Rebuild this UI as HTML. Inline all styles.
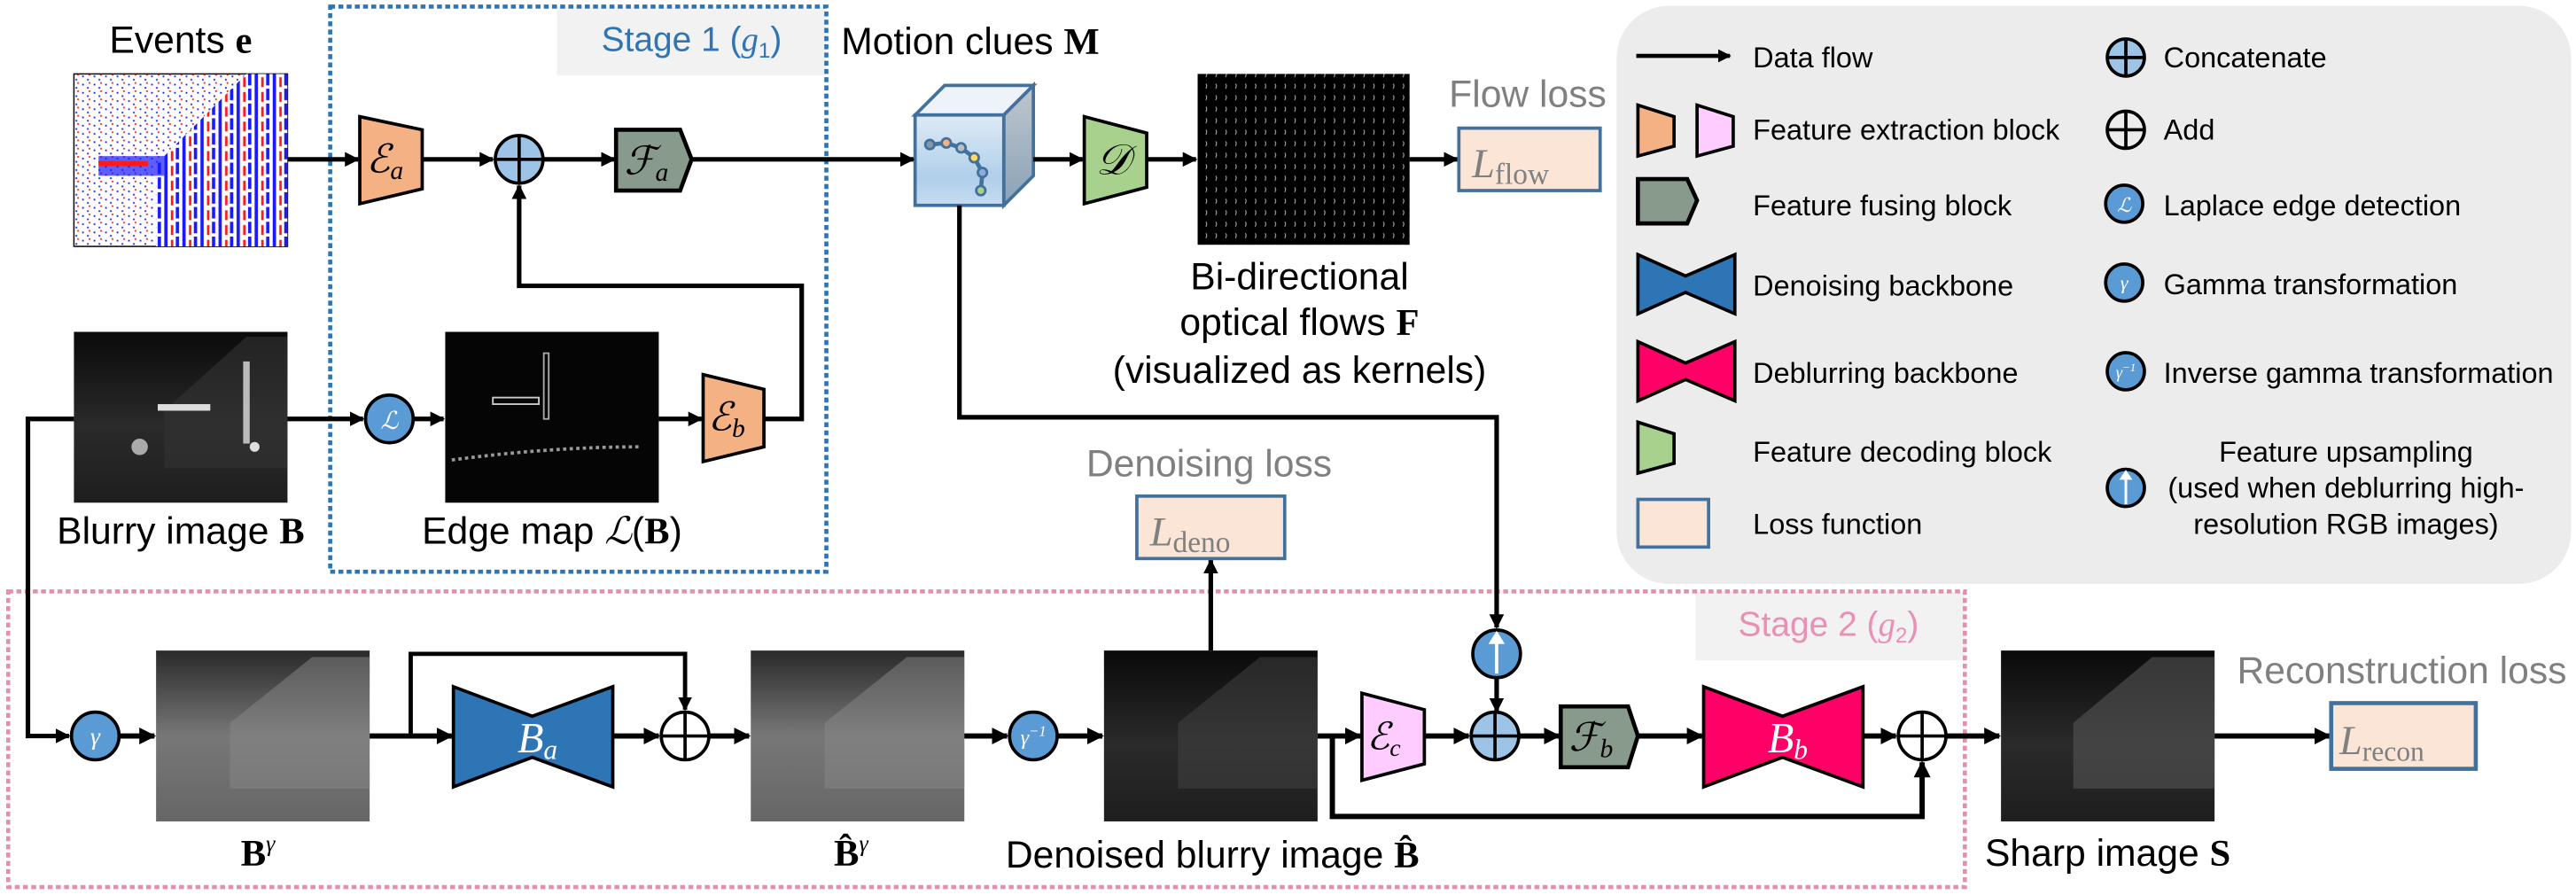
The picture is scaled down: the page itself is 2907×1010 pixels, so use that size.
<!DOCTYPE html>
<html><head><meta charset="utf-8"><style>
html,body{margin:0;padding:0;background:#fff;}
svg{display:block;}
.t{font-family:"Liberation Sans",sans-serif;}
.m{font-family:"Liberation Serif",serif;font-style:italic;}
.b{font-family:"Liberation Serif",serif;font-weight:bold;}
</style></head><body>
<svg width="2907" height="1010" viewBox="0 0 1568 544.8" preserveAspectRatio="none" xmlns="http://www.w3.org/2000/svg">
<defs>
<marker id="ah" viewBox="0 0 10 10" refX="9" refY="5" markerWidth="3.2" markerHeight="3.2" orient="auto" markerUnits="strokeWidth"><path d="M0,0 L10,5 L0,10 z" fill="#000"/></marker>
<linearGradient id="night" x1="0" y1="0" x2="0" y2="1"><stop offset="0" stop-color="#0a0a0a"/><stop offset="0.55" stop-color="#2a2a2a"/><stop offset="1" stop-color="#1e1e1e"/></linearGradient>
<linearGradient id="gam" x1="0" y1="0" x2="0" y2="1"><stop offset="0" stop-color="#2a2a2a"/><stop offset="0.5" stop-color="#777"/><stop offset="1" stop-color="#666"/></linearGradient>
<linearGradient id="cf" x1="0" y1="0" x2="0" y2="1"><stop offset="0" stop-color="#deeaf6"/><stop offset="0.7" stop-color="#b0cfea"/><stop offset="1" stop-color="#c6dcf0"/></linearGradient>
<linearGradient id="cs" x1="0" y1="0" x2="0" y2="1"><stop offset="0" stop-color="#bfc6cd"/><stop offset="1" stop-color="#8aa2b8"/></linearGradient>
<pattern id="kern" width="6" height="7" patternUnits="userSpaceOnUse"><rect width="6" height="7" fill="#000"/><path d="M2,2 q1,1 0,3" stroke="#aaa" stroke-width="0.6" fill="none"/></pattern>
<pattern id="ev" width="11" height="9" patternUnits="userSpaceOnUse"><rect width="11" height="9" fill="#fff"/><rect x="1" y="0" width="2" height="9" fill="#1a1aff"/><rect x="5" y="2" width="1.5" height="6" fill="#ff1a1a"/><rect x="8" y="0" width="2" height="7" fill="#1a1aff"/></pattern>
<pattern id="ev2" width="7" height="5" patternUnits="userSpaceOnUse"><rect width="7" height="5" fill="#fff"/><rect x="1" y="1" width="1" height="1" fill="#1a1aff"/><rect x="4" y="3" width="1" height="1" fill="#1a1aff"/><rect x="5" y="0" width="1" height="1" fill="#ff1a1a"/></pattern>
<clipPath id="bld"><polygon points="95,100 150,45 175,45 175,150 95,150"/></clipPath>
</defs>

<!-- Legend -->
<rect x="984" y="3.5" width="581" height="352" rx="32" fill="#ececec"/>

<!-- Stage boxes -->
<rect x="339" y="4" width="164" height="42" fill="#f2f2f2"/>
<rect x="201" y="4" width="302" height="344" fill="none" stroke="#2e75b6" stroke-width="2.5" stroke-dasharray="3,2"/>
<text x="421" y="31" class="t" font-size="21" fill="#2e75b6" text-anchor="middle">Stage 1 (<tspan class="m">g</tspan><tspan font-size="13" dy="4">1</tspan><tspan dy="-4">)</tspan></text>

<rect x="1032" y="360" width="164" height="42" fill="#f2f2f2"/>
<rect x="5" y="360" width="1191" height="180" fill="none" stroke="#e48fb2" stroke-width="2.5" stroke-dasharray="3,2"/>
<text x="1113" y="387" class="t" font-size="21" fill="#ea8fb5" text-anchor="middle">Stage 2 (<tspan class="m">g</tspan><tspan font-size="13" dy="4">2</tspan><tspan dy="-4">)</tspan></text>

<!-- Top labels -->
<text x="110" y="32" class="t" font-size="23" text-anchor="middle">Events <tspan class="b">e</tspan></text>
<text x="512" y="33" class="t" font-size="23">Motion clues <tspan class="b">M</tspan></text>
<text x="882" y="65" class="t" font-size="23" fill="#808080">Flow loss</text>
<text x="791" y="176" class="t" font-size="23" text-anchor="middle">Bi-directional</text>
<text x="791" y="204" class="t" font-size="23" text-anchor="middle">optical flows <tspan class="b">F</tspan></text>
<text x="791" y="233" class="t" font-size="23" text-anchor="middle">(visualized as kernels)</text>
<text x="736" y="290" class="t" font-size="23" fill="#808080" text-anchor="middle">Denoising loss</text>
<text x="110" y="331" class="t" font-size="23" text-anchor="middle">Blurry image <tspan class="b">B</tspan></text>
<text x="336" y="331" class="t" font-size="23" text-anchor="middle">Edge map <tspan class="m">ℒ</tspan>(<tspan class="b">B</tspan>)</text>
<text x="1462" y="416" class="t" font-size="23" fill="#808080" text-anchor="middle">Reconstruction loss</text>
<text x="157" y="527" class="b" font-size="23" text-anchor="middle">B<tspan font-size="14" dy="-9" class="m" font-weight="normal">γ</tspan></text>
<text x="518" y="527" class="b" font-size="23" text-anchor="middle">B̂<tspan font-size="14" dy="-9" class="m" font-weight="normal">γ</tspan></text>
<text x="738" y="528" class="t" font-size="23" text-anchor="middle">Denoised blurry image <tspan class="b">B̂</tspan></text>
<text x="1283" y="527" class="t" font-size="23" text-anchor="middle">Sharp image <tspan class="b">S</tspan></text>

<!-- Images -->
<rect x="45" y="45" width="130" height="105" fill="url(#ev2)" stroke="#000" stroke-width="0.8"/>
<rect x="95" y="45" width="80" height="105" fill="url(#ev)" clip-path="url(#bld)"/>
<rect x="60" y="95" width="40" height="12" fill="#1a1aff" opacity="0.7"/>
<rect x="60" y="98" width="30" height="3" fill="#ff1a1a"/>
<rect x="729" y="45" width="129" height="104" fill="url(#kern)"/>
<rect x="45" y="202" width="130" height="104" fill="url(#night)"/>
<polygon points="100,250 150,205 175,205 175,285 100,285" fill="#333" opacity="0.6"/>
<rect x="96" y="246" width="32" height="4" fill="#ddd"/><rect x="148" y="220" width="4" height="50" fill="#bbb"/>
<circle cx="85" cy="272" r="5" fill="#ccc" opacity="0.8"/><circle cx="155" cy="272" r="3" fill="#ddd"/>
<rect x="271" y="202" width="130" height="104" fill="#050505"/>
<rect x="300" y="242" width="28" height="4" fill="none" stroke="#ccc" stroke-width="1"/>
<rect x="331" y="215" width="3" height="40" fill="none" stroke="#aaa" stroke-width="1"/>
<path d="M275,280 q60,-8 115,-8" stroke="#999" stroke-width="2" fill="none" stroke-dasharray="2,2"/>
<rect x="95" y="396" width="130" height="104" fill="url(#gam)"/>
<polygon points="140,440 190,400 225,400 225,480 140,480" fill="#888" opacity="0.5"/>
<rect x="457" y="396" width="130" height="104" fill="url(#gam)"/>
<polygon points="502,440 552,400 587,400 587,480 502,480" fill="#888" opacity="0.5"/>
<rect x="672" y="396" width="130" height="104" fill="url(#night)"/>
<polygon points="717,440 767,400 802,400 802,480 717,480" fill="#444" opacity="0.5"/>
<rect x="1218" y="396" width="130" height="104" fill="url(#night)"/>
<polygon points="1262,440 1310,400 1348,400 1348,480 1262,480" fill="#555" opacity="0.6"/>

<!-- Cube -->
<polygon points="557,70 575,52 629,52 611,70" fill="#eef3fa" stroke="#41719c" stroke-width="2"/>
<polygon points="611,70 629,52 629,107 611,125" fill="url(#cs)" stroke="#41719c" stroke-width="2"/>
<rect x="557" y="70" width="54" height="55" fill="url(#cf)" stroke="#41719c" stroke-width="2"/>
<polyline points="566,88 576,87 585,90 593,96 598,105 597,116" fill="none" stroke="#41719c" stroke-width="2.5"/>
<g stroke="#41719c" stroke-width="1.5">
<circle cx="566" cy="88" r="2.8" fill="#8497b0"/><circle cx="576" cy="87" r="2.8" fill="#f4b183"/><circle cx="585" cy="90" r="2.8" fill="#bfbfbf"/><circle cx="593" cy="96" r="2.8" fill="#ffd966"/><circle cx="598" cy="105" r="2.8" fill="#8faadc"/><circle cx="597" cy="116" r="2.8" fill="#a9d18e"/></g>

<!-- Connectors -->
<g stroke="#000" stroke-width="2.8" fill="none">
<line x1="175" y1="97" x2="218" y2="97" marker-end="url(#ah)"/>
<line x1="257" y1="97" x2="300" y2="97" marker-end="url(#ah)"/>
<line x1="331" y1="97" x2="374" y2="97" marker-end="url(#ah)"/>
<line x1="421" y1="97" x2="556" y2="97" marker-end="url(#ah)"/>
<line x1="629" y1="97" x2="659" y2="97" marker-end="url(#ah)"/>
<line x1="698" y1="97" x2="728" y2="97" marker-end="url(#ah)"/>
<line x1="858" y1="97" x2="887" y2="97" marker-end="url(#ah)"/>
<line x1="175" y1="255" x2="221" y2="255" marker-end="url(#ah)"/>
<line x1="252" y1="255" x2="270" y2="255" marker-end="url(#ah)"/>
<line x1="401" y1="255" x2="427" y2="255" marker-end="url(#ah)"/>
<polyline points="465,255 488,255 488,174 316,174 316,113" marker-end="url(#ah)"/>
<polyline points="584,125 584,254 911,254 911,382" marker-end="url(#ah)"/>
<line x1="911" y1="413" x2="911" y2="433" marker-end="url(#ah)"/>
<line x1="737" y1="396" x2="737" y2="341" marker-end="url(#ah)"/>
<polyline points="45,255 17,255 17,448 42,448" marker-end="url(#ah)"/>
</g>
<g stroke="#000" stroke-width="3.2" fill="none">
<line x1="73" y1="448" x2="94" y2="448" marker-end="url(#ah)"/>
<line x1="225" y1="448" x2="275" y2="448" marker-end="url(#ah)"/>
<polyline points="250,448 250,398 417,398 417,432" marker-end="url(#ah)" stroke-width="2.6"/>
<line x1="373" y1="448" x2="401" y2="448" marker-end="url(#ah)"/>
<line x1="432" y1="448" x2="456" y2="448" marker-end="url(#ah)"/>
<line x1="587" y1="448" x2="613" y2="448" marker-end="url(#ah)"/>
<line x1="644" y1="448" x2="671" y2="448" marker-end="url(#ah)"/>
<line x1="802" y1="448" x2="828" y2="448" marker-end="url(#ah)"/>
<polyline points="811,448 811,497 1170,497 1170,464" marker-end="url(#ah)"/>
<line x1="867" y1="448" x2="894" y2="448" marker-end="url(#ah)"/>
<line x1="925" y1="448" x2="949" y2="448" marker-end="url(#ah)"/>
<line x1="997" y1="448" x2="1036" y2="448" marker-end="url(#ah)"/>
<line x1="1134" y1="448" x2="1154" y2="448" marker-end="url(#ah)"/>
<line x1="1185" y1="448" x2="1217" y2="448" marker-end="url(#ah)"/>
<line x1="1348" y1="448" x2="1418" y2="448" marker-end="url(#ah)"/>
</g>

<!-- Blocks -->
<polygon points="219,71 257,79 257,115 219,124" fill="#f4b183" stroke="#000" stroke-width="2"/>
<text x="223" y="105" class="m" font-size="24">ℰ<tspan font-size="16" dy="4">a</tspan></text>
<polygon points="428,228 465,237 465,272 428,281" fill="#f4b183" stroke="#000" stroke-width="2"/>
<text x="431" y="262" class="m" font-size="24">ℰ<tspan font-size="16" dy="4">b</tspan></text>
<polygon points="375,79 414,79 421,97 414,116 375,116" fill="#879a8c" stroke="#000" stroke-width="2.5"/>
<text x="380" y="106" class="m" font-size="24">ℱ<tspan font-size="16" dy="4">a</tspan></text>
<polygon points="660,71 698,81 698,114 660,124" fill="#a9d18e" stroke="#000" stroke-width="2"/>
<text x="667" y="106" class="m" font-size="26">𝒟</text>
<polygon points="829,422 867,432 867,465 829,475" fill="#ffccff" stroke="#000" stroke-width="2"/>
<text x="832" y="456" class="m" font-size="23">ℰ<tspan font-size="15" dy="4">c</tspan></text>
<polygon points="950,430 991,430 997,448 991,467 950,467" fill="#879a8c" stroke="#000" stroke-width="2.5"/>
<text x="955" y="457" class="m" font-size="24">ℱ<tspan font-size="16" dy="4">b</tspan></text>
<polygon points="276,418 324,436 373,418 373,479 324,461 276,479" fill="#2e75b6" stroke="#000" stroke-width="2"/>
<text x="315" y="458" class="m" font-size="26" fill="#fff">B<tspan font-size="17" dy="4">a</tspan></text>
<polygon points="1037,418 1085,436 1134,418 1134,479 1085,461 1037,479" fill="#ff0066" stroke="#000" stroke-width="2"/>
<text x="1076" y="458" class="m" font-size="26" fill="#fff">B<tspan font-size="17" dy="4">b</tspan></text>

<!-- Circles -->
<g stroke="#000" stroke-width="2">
<circle cx="316" cy="97" r="14.5" fill="#9dc3e6"/><line x1="301.5" y1="97" x2="330.5" y2="97"/><line x1="316" y1="82.5" x2="316" y2="111.5"/>
<circle cx="910" cy="448" r="14.5" fill="#9dc3e6"/><line x1="895.5" y1="448" x2="924.5" y2="448"/><line x1="910" y1="433.5" x2="910" y2="462.5"/>
<circle cx="417" cy="448" r="14.5" fill="#fff"/><line x1="402.5" y1="448" x2="431.5" y2="448"/><line x1="417" y1="433.5" x2="417" y2="462.5"/>
<circle cx="1170" cy="448" r="14.5" fill="#fff"/><line x1="1155.5" y1="448" x2="1184.5" y2="448"/><line x1="1170" y1="433.5" x2="1170" y2="462.5"/>
<circle cx="237" cy="255" r="14.5" fill="#5b9bd5"/>
<circle cx="58" cy="448" r="14.5" fill="#5b9bd5"/>
<circle cx="629" cy="448" r="14.5" fill="#5b9bd5"/>
<circle cx="911" cy="398" r="14.5" fill="#5b9bd5"/>
</g>
<text x="237" y="261" class="m" font-size="15" fill="#fff" text-anchor="middle">ℒ</text>
<text x="58" y="453" class="m" font-size="15" fill="#fff" text-anchor="middle">γ</text>
<text x="629" y="453" class="m" font-size="13" fill="#fff" text-anchor="middle">γ<tspan font-size="9" dy="-5">−1</tspan></text>
<line x1="911" y1="410" x2="911" y2="390" stroke="#fff" stroke-width="2"/><polygon points="906,392 911,384 916,392" fill="#fff"/>

<!-- Loss boxes -->
<rect x="888" y="78" width="86" height="38" fill="#fbe5d6" stroke="#41719c" stroke-width="2"/>
<text x="896" y="108" class="m" font-size="25" fill="#808080">L<tspan font-size="18" font-style="normal" dy="4">flow</tspan></text>
<rect x="692" y="302" width="90" height="38" fill="#fbe5d6" stroke="#41719c" stroke-width="2"/>
<text x="700" y="332" class="m" font-size="25" fill="#808080">L<tspan font-size="18" font-style="normal" dy="4">deno</tspan></text>
<rect x="1419" y="428" width="88" height="40" fill="#fbe5d6" stroke="#41719c" stroke-width="2.5"/>
<text x="1424" y="459" class="m" font-size="25" fill="#808080">L<tspan font-size="17" font-style="normal" dy="4">recon</tspan></text>

<!-- Legend contents -->
<line x1="996" y1="34" x2="1053" y2="34" stroke="#000" stroke-width="2.5" marker-end="url(#ah)"/>
<polygon points="997,64 1019,71 1019,89 997,95" fill="#f4b183" stroke="#000" stroke-width="2"/>
<polygon points="1033,64 1055,71 1055,89 1033,95" fill="#ffccff" stroke="#000" stroke-width="2"/>
<polygon points="997,109 1027,109 1033,122 1027,136 997,136" fill="#879a8c" stroke="#000" stroke-width="2.5"/>
<polygon points="997,155 1026,168 1056,155 1056,191 1026,178 997,191" fill="#2e75b6" stroke="#000" stroke-width="2"/>
<polygon points="997,208 1026,221 1056,208 1056,244 1026,231 997,244" fill="#ff0066" stroke="#000" stroke-width="2"/>
<polygon points="997,257 1019,264 1019,282 997,288" fill="#a9d18e" stroke="#000" stroke-width="2"/>
<rect x="997" y="304" width="43" height="29" fill="#fbe5d6" stroke="#41719c" stroke-width="2"/>
<g class="t" font-size="17.5">
<text x="1067" y="41">Data flow</text>
<text x="1067" y="85">Feature extraction block</text>
<text x="1067" y="131">Feature fusing block</text>
<text x="1067" y="180">Denoising backbone</text>
<text x="1067" y="233">Deblurring backbone</text>
<text x="1067" y="281">Feature decoding block</text>
<text x="1067" y="325">Loss function</text>
<text x="1317" y="41">Concatenate</text>
<text x="1317" y="85">Add</text>
<text x="1317" y="131">Laplace edge detection</text>
<text x="1317" y="179">Gamma transformation</text>
<text x="1317" y="233">Inverse gamma transformation</text>
<text x="1428" y="281" text-anchor="middle">Feature upsampling</text>
<text x="1428" y="303" text-anchor="middle">(used when deblurring high-</text>
<text x="1428" y="325" text-anchor="middle">resolution RGB images)</text>
</g>
<g stroke="#000" stroke-width="2">
<circle cx="1294" cy="35" r="11.3" fill="#9dc3e6"/><line x1="1282.7" y1="35" x2="1305.3" y2="35"/><line x1="1294" y1="23.7" x2="1294" y2="46.3"/>
<circle cx="1294" cy="79" r="11.3" fill="none"/><line x1="1282.7" y1="79" x2="1305.3" y2="79"/><line x1="1294" y1="67.7" x2="1294" y2="90.3"/>
<circle cx="1293" cy="124" r="11.3" fill="#5b9bd5"/>
<circle cx="1293" cy="172" r="11.3" fill="#5b9bd5"/>
<circle cx="1294" cy="226" r="11.3" fill="#5b9bd5"/>
<circle cx="1294" cy="297" r="11.3" fill="#5b9bd5"/>
</g>
<text x="1293" y="129" class="m" font-size="12" fill="#fff" text-anchor="middle">ℒ</text>
<text x="1293" y="176" class="m" font-size="12" fill="#fff" text-anchor="middle">γ</text>
<text x="1294" y="230" class="m" font-size="10" fill="#fff" text-anchor="middle">γ<tspan font-size="7" dy="-4">−1</tspan></text>
<line x1="1294" y1="307" x2="1294" y2="291" stroke="#fff" stroke-width="1.6"/><polygon points="1290,292 1294,286 1298,292" fill="#fff"/>
</svg>
</body></html>
